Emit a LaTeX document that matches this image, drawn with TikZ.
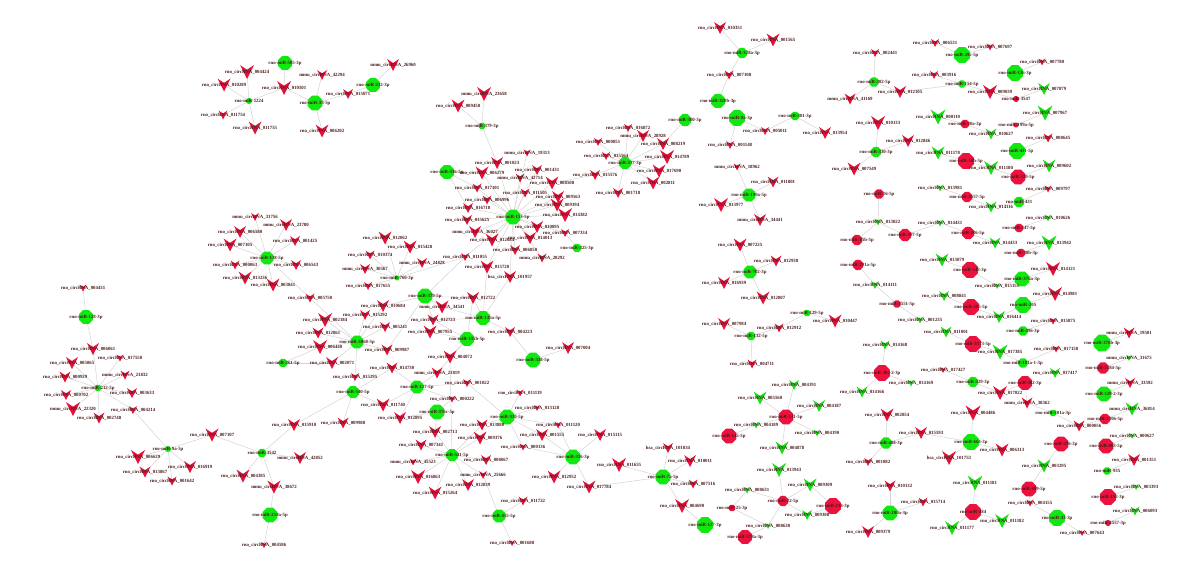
\documentclass[tikz,border=0pt]{standalone}
\usepackage{fontspec}
\setmainfont{Liberation Serif}
\usetikzlibrary{shapes.geometric}
\pgfdeclarelayer{bg}\pgfsetlayers{bg,main}
\definecolor{gO}{RGB}{16,232,16}
\definecolor{rO}{RGB}{236,18,62}
\definecolor{gV}{RGB}{20,225,20}
\definecolor{rV}{RGB}{232,16,58}
\definecolor{lab}{RGB}{72,26,26}
\definecolor{edg}{RGB}{212,212,212}
\tikzset{
 oct/.style={regular polygon,regular polygon sides=8,inner sep=0pt,draw=none},
 ptn/.style={inner sep=0pt,minimum size=0.5pt,draw=none},
 lbl/.style={font=\fontsize{4.8}{5}\selectfont\bfseries,text=lab,inner sep=0pt},
 edge/.style={draw=edg,line width=0.5pt}
}
\newif\ifshp
\newcommand\GO[5]{\ifshp\node[oct,fill=gO,minimum size=#4pt] (#1) at (#2,#3) {};\else\node[lbl] (#1-t) at (#2,#3) {#5};\fi}
\newcommand\RO[5]{\ifshp\node[oct,fill=rO,minimum size=#4pt] (#1) at (#2,#3) {};\else\node[lbl] (#1-t) at (#2,#3) {#5};\fi}
\newcommand\VN[6]{\ifshp\node[ptn] (#1) at (#2,#3) {};\fill[#6] (#2-#4/2,#3-#4/2) -- (#2,#3-#4/6) -- (#2+#4/2,#3-#4/2) -- (#2,#3+#4/2) -- cycle;\else\node[lbl] (#1-t) at (#2,#3) {#5};\fi}
\newcommand\RV[5]{\VN{#1}{#2}{#3}{#4}{#5}{rV}}
\newcommand\GV[5]{\VN{#1}{#2}{#3}{#4}{#5}{gV}}
\begin{document}
\catcode`\_=12
\newcommand\NODELIST{%
% ---------- green miRNA octagons
\GO{r505-3p}{285}{63}{15}{rno-miR-505-3p}
\GO{r1224}{249}{101}{6}{rno-miR-1224}
\GO{r33-5p}{315}{103}{16}{rno-miR-33-5p}
\GO{r212-3p}{373}{85}{15}{rno-miR-212-3p}
\GO{r379-3p}{482}{126}{7}{rno-miR-379-3p}
\GO{r336-5p}{447}{172}{15}{rno-miR-336-5p}
\GO{r153-5p}{513}{217}{16}{rno-miR-153-5p}
\GO{r325-3p}{577}{248}{9}{rno-miR-325-3p}
\GO{r138-5p}{267}{258}{14}{rno-miR-138-5p}
\GO{r128-3p}{86}{317}{15}{rno-miR-128-3p}
\GO{r361-5p}{283}{363}{9}{rno-miR-361-5p}
\GO{r760-3p}{397}{278}{5}{rno-miR-760-3p}
\GO{r379-5p}{425}{296}{16}{rno-miR-379-5p}
\GO{r135a-5p}{483}{318}{15}{rno-miR-135a-5p}
\GO{r135b-5p}{467}{339}{15}{rno-miR-135b-5p}
\GO{r3068-5p}{357}{342}{14}{rno-miR-3068-5p}
\GO{r338-5p}{533}{360}{16}{rno-miR-338-5p}
\GO{r212-5p}{98}{388}{7}{rno-miR-212-5p}
\GO{r9a-5p}{168}{449}{6}{rno-miR-9a-5p}
\GO{r3542}{262}{453}{9}{rno-miR-3542}
\GO{r218a-5p}{270}{515}{16}{rno-miR-218a-5p}
\GO{r540-5p}{353}{392}{13}{rno-miR-540-5p}
\GO{r127-5p}{417}{387}{14}{rno-miR-127-5p}
\GO{r376c-5p}{437}{412}{16}{rno-miR-376c-5p}
\GO{r330-5p}{507}{417}{16}{rno-miR-330-5p}
\GO{r541-5p}{452}{455}{13}{rno-miR-541-5p}
\GO{r326-3p}{573}{457}{16}{rno-miR-326-3p}
\GO{r455-5p}{499}{516}{14}{rno-miR-455-5p}
\GO{r7a-5p}{663}{477}{16}{rno-miR-7a-5p}
\GO{r127-3p}{705}{525}{17}{rno-miR-127-3p}
\GO{r328a-3p}{742}{53}{11}{rno-miR-328a-3p}
\GO{r328b-3p}{718}{101}{15}{rno-miR-328b-3p}
\GO{r300-3p}{685}{120}{13}{rno-miR-300-3p}
\GO{r9a-3p}{737}{118}{17}{rno-miR-9a-3p}
\GO{r381-3p}{795}{116}{9}{rno-miR-381-3p}
\GO{r382-5p}{874}{82}{10}{rno-miR-382-5p}
\GO{r330-3p}{876}{152}{11}{rno-miR-330-3p}
\GO{r337-3p}{625}{163}{13}{rno-miR-337-3p}
\GO{r190a-5p}{749}{195}{14}{rno-miR-190a-5p}
\GO{r702-3p}{750}{272}{14}{rno-miR-702-3p}
\GO{r129-5p}{807}{313}{7}{rno-miR-129-5p}
\GO{r132-5p}{751}{336}{9}{rno-miR-132-5p}
\GO{r29c-5p}{962}{55}{17}{rno-miR-29c-5p}
\GO{r136-3p}{1015}{73}{17}{rno-miR-136-3p}
\GO{r154-5p}{962}{84}{8}{rno-miR-154-5p}
\GO{r411-5p}{1017}{151}{17}{rno-miR-411-5p}
\GO{r431}{1019}{202}{11}{rno-miR-431}
\GO{r376a-3p}{1022}{279}{16}{rno-miR-376a-3p}
\GO{r205}{1023}{305}{17}{rno-miR-205}
\GO{r496-3p}{1023}{331}{10}{rno-miR-496-3p}
\GO{r376b-3p}{1102}{343}{18}{rno-miR-376b-3p}
\GO{r181a}{1023}{363}{10}{rno-miR-181a-1-3p}
\GO{r329-3p}{973}{382}{11}{rno-miR-329-3p}
\GO{r301a-3p}{1053}{413}{7}{rno-miR-301a-3p}
\GO{r129-2-3p}{1104}{394}{16}{rno-miR-129-2-3p}
\GO{r664-3p}{971}{442}{17}{rno-miR-664-3p}
\GO{r935}{1107}{471}{8}{rno-miR-935}
\GO{r33-3p}{1057}{518}{17}{rno-miR-33-3p}
\GO{r488-3p}{886}{443}{12}{rno-miR-488-3p}
\GO{r200a-3p}{890}{513}{16}{rno-miR-200a-3p}
% ---------- red miRNA octagons
\RO{r3557-5p}{967}{197}{11}{rno-miR-3557-5p}
\RO{r16-5p}{879}{194}{10}{rno-miR-16-5p}
\RO{r15b-5p}{857}{240}{11}{rno-miR-15b-5p}
\RO{r497-5p}{905}{235}{13}{rno-miR-497-5p}
\RO{r206-5p}{968}{233}{13}{rno-miR-206-5p}
\RO{r547-5p}{1019}{228}{9}{rno-miR-547-5p}
\RO{r30b-3p}{1021}{253}{9}{rno-miR-30b-3p}
\RO{r291a-5p}{858}{265}{11}{rno-miR-291a-5p}
\RO{r143-3p}{970}{270}{17}{rno-miR-143-3p}
\RO{r3551-5p}{897}{304}{8}{rno-miR-3551-5p}
\RO{r505-5p}{971}{307}{17}{rno-miR-505-5p}
\RO{r3573-5p}{973}{344}{17}{rno-miR-3573-5p}
\RO{r3584-5p}{1103}{368}{12}{rno-miR-3584-5p}
\RO{r30c-2-3p}{882}{373}{17}{rno-miR-30c-2-3p}
\RO{r382-3p}{1025}{383}{15}{rno-miR-382-3p}
\RO{r1306-5p}{1105}{419}{11}{rno-miR-1306-5p}
\RO{r296-3p}{1061}{444}{16}{rno-miR-296-3p}
\RO{r883-5p}{1106}{446}{16}{rno-miR-883-5p}
\RO{r499-5p}{1029}{489}{16}{rno-miR-499-5p}
\RO{r152-3p}{1108}{497}{17}{rno-miR-152-3p}
\RO{r484}{973}{512}{17}{rno-miR-484}
\RO{r3557-3p}{1108}{523}{6}{rno-miR-3557-3p}
\RO{r141-5p}{786}{417}{16}{rno-miR-141-5p}
\RO{r145-5p}{729}{436}{16}{rno-miR-145-5p}
\RO{r22-5p}{783}{501}{11}{rno-miR-22-5p}
\RO{r25-3p}{732}{508}{7}{rno-miR-25-3p}
\RO{r214-3p}{833}{506}{17}{rno-miR-214-3p}
\RO{r378a-3p}{745}{537}{15}{rno-miR-378a-3p}
\RO{r3547}{1016}{99}{6}{rno-miR-3547}
\RO{r30a-3p}{965}{124}{9}{rno-miR-30a-3p}
\RO{r199a-5p}{1016}{125}{5}{rno-miR-199a-5p}
\RO{r10b-5p}{966}{161}{17}{rno-miR-10b-5p}
\RO{r320-5p}{1018}{177}{16}{rno-miR-320-5p}
% ---------- circRNA V nodes (left)
\RV{c004424}{247}{72}{14}{rno_circRNA_004424}
\RV{c010289}{224}{85}{13}{rno_circRNA_010289}
\RV{c010501}{284}{88}{14}{rno_circRNA_010501}
\RV{c011754}{223}{115}{9}{rno_circRNA_011754}
\RV{c011755}{255}{128}{13}{rno_circRNA_011755}
\RV{u42294}{322}{75}{10}{mmu_circRNA_42294}
\RV{c006202}{322}{131}{13}{rno_circRNA_006202}
\RV{c015071}{348}{94}{10}{rno_circRNA_015071}
\RV{u26960}{393}{65}{12}{mmu_circRNA_26960}
\RV{u23658}{484}{94}{14}{mmu_circRNA_23658}
\RV{c009458}{458}{106}{13}{rno_circRNA_009458}
\RV{u19313}{527}{153}{7}{mmu_circRNA_19313}
\RV{c001023}{497}{163}{12}{rno_circRNA_001023}
\RV{c006279}{482}{173}{13}{rno_circRNA_006279}
\RV{c001431}{537}{170}{10}{rno_circRNA_001431}
\RV{u42714}{520}{178}{9}{mmu_circRNA_42714}
\RV{c017101}{477}{188}{9}{rno_circRNA_017101}
\RV{c008508}{552}{183}{13}{rno_circRNA_008508}
\RV{c011505}{525}{193}{9}{rno_circRNA_011505}
\RV{c009563}{558}{197}{12}{rno_circRNA_009563}
\RV{c006996}{487}{200}{9}{rno_circRNA_006996}
\RV{c009394}{557}{205}{13}{rno_circRNA_009394}
\RV{c016718}{468}{208}{10}{rno_circRNA_016718}
\RV{c014382}{565}{215}{14}{rno_circRNA_014382}
\RV{c015625}{467}{220}{10}{rno_circRNA_015625}
\RV{c010895}{537}{227}{12}{rno_circRNA_010895}
\RV{c007334}{565}{233}{8}{rno_circRNA_007334}
\RV{u36027}{475}{232}{12}{mmu_circRNA_36027}
\RV{c014013}{530}{238}{12}{rno_circRNA_014013}
\RV{c012084}{492}{240}{13}{rno_circRNA_012084}
\RV{c006850}{515}{250}{10}{rno_circRNA_006850}
\RV{u28292}{542}{258}{9}{mmu_circRNA_28292}
\RV{c011055}{465}{257}{8}{rno_circRNA_011055}
\RV{c015720}{487}{267}{13}{rno_circRNA_015720}
\RV{h101957}{510}{277}{12}{hsa_circRNA_101957}
\RV{c012062}{385}{238}{13}{rno_circRNA_012062}
\RV{c015428}{410}{247}{13}{rno_circRNA_015428}
\RV{c010374}{370}{255}{9}{rno_circRNA_010374}
\RV{u24828}{422}{263}{10}{mmu_circRNA_24828}
\RV{u30567}{365}{269}{10}{mmu_circRNA_30567}
\RV{c017655}{368}{286}{8}{rno_circRNA_017655}
\RV{c012722}{473}{298}{12}{rno_circRNA_012722}
\RV{c010684}{383}{306}{12}{rno_circRNA_010684}
\RV{u34541}{442}{307}{13}{mmu_circRNA_34541}
\RV{c015292}{365}{315}{10}{rno_circRNA_015292}
\RV{c012723}{433}{320}{11}{rno_circRNA_012723}
\RV{c005241}{385}{327}{10}{rno_circRNA_005241}
\RV{c007955}{430}{332}{13}{rno_circRNA_007955}
\RV{c004223}{510}{332}{10}{rno_circRNA_004223}
\RV{c009987}{387}{350}{11}{rno_circRNA_009987}
\RV{c004072}{450}{357}{13}{rno_circRNA_004072}
\RV{c007004}{568}{348}{12}{rno_circRNA_007004}
\RV{c014730}{392}{368}{11}{rno_circRNA_014730}
\RV{u21819}{437}{373}{11}{mmu_circRNA_21819}
\RV{c015295}{355}{377}{8}{rno_circRNA_015295}
\RV{c005750}{310}{298}{9}{rno_circRNA_005750}
\RV{c002184}{325}{320}{14}{rno_circRNA_002184}
\RV{c012861}{318}{333}{11}{rno_circRNA_012861}
\RV{c006440}{320}{347}{14}{rno_circRNA_006440}
\RV{c002071}{332}{363}{12}{rno_circRNA_002071}
\RV{u31756}{255}{217}{8}{mmu_circRNA_31756}
\RV{u23780}{286}{225}{12}{mmu_circRNA_23780}
\RV{c006580}{240}{232}{12}{rno_circRNA_006580}
\RV{c007105}{230}{245}{13}{rno_circRNA_007105}
\RV{c001425}{295}{241}{10}{rno_circRNA_001425}
\RV{c000063}{235}{265}{9}{rno_circRNA_000063}
\RV{c006543}{296}{265}{10}{rno_circRNA_006543}
\RV{c013236}{245}{278}{13}{rno_circRNA_013236}
\RV{c003841}{273}{285}{13}{rno_circRNA_003841}
\RV{c004431}{83}{288}{7}{rno_circRNA_004431}
\RV{c006061}{93}{349}{12}{rno_circRNA_006061}
\RV{c005865}{72}{363}{12}{rno_circRNA_005865}
\RV{c017550}{120}{358}{7}{rno_circRNA_017550}
\RV{u21832}{125}{375}{9}{mmu_circRNA_21832}
\RV{c000929}{65}{377}{11}{rno_circRNA_000929}
\RV{c000702}{66}{395}{10}{rno_circRNA_000702}
\RV{c003633}{132}{393}{10}{rno_circRNA_003633}
\RV{u22320}{73}{409}{14}{mmu_circRNA_22320}
\RV{c004214}{133}{410}{8}{rno_circRNA_004214}
\RV{c002748}{99}{418}{11}{rno_circRNA_002748}
\RV{c007107}{212}{435}{13}{rno_circRNA_007107}
\RV{c006629}{138}{457}{14}{rno_circRNA_006629}
\RV{c016919}{190}{467}{12}{rno_circRNA_016919}
\RV{c013867}{145}{472}{11}{rno_circRNA_013867}
\RV{c001642}{172}{481}{9}{rno_circRNA_001642}
\RV{c004385}{243}{476}{13}{rno_circRNA_004385}
\RV{u38672}{274}{487}{13}{mmu_circRNA_38672}
\RV{c004586}{264}{545}{6}{rno_circRNA_004586}
\RV{u42852}{300}{458}{12}{mmu_circRNA_42852}
\RV{c015910}{294}{425}{12}{rno_circRNA_015910}
\RV{c009988}{343}{423}{11}{rno_circRNA_009988}
\RV{c011740}{383}{405}{13}{rno_circRNA_011740}
\RV{c012895}{400}{418}{12}{rno_circRNA_012895}
\RV{c001022}{467}{383}{8}{rno_circRNA_001022}
\RV{c000222}{452}{399}{7}{rno_circRNA_000222}
\RV{c011119}{520}{393}{7}{rno_circRNA_011119}
\RV{c013128}{537}{408}{6}{rno_circRNA_013128}
\RV{c013880}{482}{425}{11}{rno_circRNA_013880}
\RV{c011120}{558}{425}{7}{rno_circRNA_011120}
\RV{c002713}{435}{432}{12}{rno_circRNA_002713}
\RV{c009376}{480}{438}{13}{rno_circRNA_009376}
\RV{c001555}{542}{435}{12}{rno_circRNA_001555}
\RV{c007341}{421}{445}{11}{rno_circRNA_007341}
\RV{c000136}{523}{447}{7}{rno_circRNA_000136}
\RV{u45523}{413}{462}{7}{mmu_circRNA_45523}
\RV{c008067}{486}{460}{10}{rno_circRNA_008067}
\RV{c016863}{418}{477}{14}{rno_circRNA_016863}
\RV{u25666}{483}{475}{8}{mmu_circRNA_25666}
\RV{c012952}{554}{477}{13}{rno_circRNA_012952}
\RV{c012839}{468}{485}{12}{rno_circRNA_012839}
\RV{c015264}{435}{493}{13}{rno_circRNA_015264}
\RV{c017784}{589}{487}{13}{rno_circRNA_017784}
\RV{c011722}{523}{501}{9}{rno_circRNA_011722}
\RV{c001680}{512}{543}{6}{rno_circRNA_001680}
\RV{c015115}{600}{435}{12}{rno_circRNA_015115}
\RV{c011655}{619}{465}{14}{rno_circRNA_011655}
\RV{h101834}{668}{448}{10}{hsa_circRNA_101834}
\RV{c010011}{690}{461}{12}{rno_circRNA_010011}
\RV{c007516}{693}{484}{9}{rno_circRNA_007516}
\RV{c004690}{682}{506}{14}{rno_circRNA_004690}
% ---------- circRNA V nodes (top middle)
\RV{c010351}{720}{28}{12}{rno_circRNA_010351}
\RV{c001565}{773}{40}{13}{rno_circRNA_001565}
\RV{c007108}{729}{75}{9}{rno_circRNA_007108}
\RV{c002441}{875}{53}{8}{rno_circRNA_002441}
\RV{u41169}{850}{99}{11}{mmu_circRNA_41169}
\RV{c012105}{900}{92}{12}{rno_circRNA_012105}
\RV{c005011}{765}{131}{8}{rno_circRNA_005011}
\RV{c013954}{825}{133}{12}{rno_circRNA_013954}
\RV{c010133}{878}{123}{14}{rno_circRNA_010133}
\RV{c001148}{730}{145}{8}{rno_circRNA_001148}
\RV{c012846}{908}{141}{12}{rno_circRNA_012846}
\RV{c007549}{854}{169}{13}{rno_circRNA_007549}
\RV{c016872}{628}{128}{8}{rno_circRNA_016872}
\RV{u28928}{643}{136}{12}{mmu_circRNA_28928}
\RV{c000851}{598}{142}{8}{rno_circRNA_000851}
\RV{c008219}{663}{144}{12}{rno_circRNA_008219}
\RV{c015564}{606}{156}{8}{rno_circRNA_015564}
\RV{c014789}{667}{157}{14}{rno_circRNA_014789}
\RV{c017690}{659}{171}{13}{rno_circRNA_017690}
\RV{c015576}{595}{175}{10}{rno_circRNA_015576}
\RV{c002811}{653}{183}{13}{rno_circRNA_002811}
\RV{c001718}{618}{193}{10}{rno_circRNA_001718}
\RV{u18962}{737}{167}{7}{mmu_circRNA_18962}
\RV{c011801}{773}{182}{11}{rno_circRNA_011801}
\RV{c013977}{721}{205}{14}{rno_circRNA_013977}
\RV{u34441}{760}{220}{12}{mmu_circRNA_34441}
\RV{c007225}{740}{245}{13}{rno_circRNA_007225}
\RV{c012938}{776}{261}{11}{rno_circRNA_012938}
\RV{c016939}{724}{283}{12}{rno_circRNA_016939}
\RV{c012807}{763}{298}{13}{rno_circRNA_012807}
\RV{c007984}{724}{324}{12}{rno_circRNA_007984}
\RV{c012912}{779}{328}{9}{rno_circRNA_012912}
\RV{c010447}{835}{321}{13}{rno_circRNA_010447}
\RV{c004711}{752}{364}{9}{rno_circRNA_004711}
% ---------- circRNA V nodes (right)
\GV{c013022}{878}{222}{7}{rno_circRNA_013022}
\GV{c014111}{875}{285}{8}{rno_circRNA_014111}
\GV{c001235}{920}{320}{7}{rno_circRNA_001235}
\GV{c014168}{885}{345}{9}{rno_circRNA_014168}
\GV{c014169}{911}{383}{7}{rno_circRNA_014169}
\GV{c014166}{862}{392}{11}{rno_circRNA_014166}
\RV{c002854}{887}{415}{13}{rno_circRNA_002854}
\RV{c015593}{921}{433}{12}{rno_circRNA_015593}
\RV{c001882}{868}{462}{8}{rno_circRNA_001882}
\RV{c010132}{890}{486}{11}{rno_circRNA_010132}
\RV{c015714}{923}{502}{9}{rno_circRNA_015714}
\RV{c009379}{868}{532}{12}{rno_circRNA_009379}
\RV{c006531}{935}{43}{8}{rno_circRNA_006531}
\RV{c007697}{990}{47}{7}{rno_circRNA_007697}
\RV{c007780}{1042}{62}{7}{rno_circRNA_007780}
\RV{c003916}{934}{75}{8}{rno_circRNA_003916}
\RV{c009039}{990}{92}{14}{rno_circRNA_009039}
\GV{c007879}{1044}{89}{12}{rno_circRNA_007879}
\GV{c000110}{938}{117}{15}{rno_circRNA_000110}
\GV{c007967}{1045}{113}{15}{rno_circRNA_007967}
\GV{c010627}{991}{134}{11}{rno_circRNA_010627}
\RV{c008645}{1048}{138}{9}{rno_circRNA_008645}
\GV{c011178}{938}{153}{13}{rno_circRNA_011178}
\GV{c011180}{991}{168}{14}{rno_circRNA_011180}
\GV{c009602}{1049}{166}{13}{rno_circRNA_009602}
\GV{c013981}{940}{188}{7}{rno_circRNA_013981}
\RV{c009797}{1048}{189}{7}{rno_circRNA_009797}
\GV{c014116}{991}{207}{11}{rno_circRNA_014116}
\GV{c014431}{940}{223}{7}{rno_circRNA_014431}
\GV{c010626}{1048}{218}{7}{rno_circRNA_010626}
\GV{c014433}{995}{243}{11}{rno_circRNA_014433}
\GV{c013942}{1049}{243}{15}{rno_circRNA_013942}
\GV{c013079}{942}{260}{13}{rno_circRNA_013079}
\RV{c014121}{1053}{269}{14}{rno_circRNA_014121}
\GV{c015151}{997}{286}{6}{rno_circRNA_015151}
\GV{c008841}{944}{296}{10}{rno_circRNA_008841}
\RV{c014981}{1055}{294}{14}{rno_circRNA_014981}
\GV{c016414}{999}{317}{12}{rno_circRNA_016414}
\RV{c015875}{1053}{321}{7}{rno_circRNA_015875}
\GV{c011001}{946}{332}{11}{rno_circRNA_011001}
\GV{c017385}{1000}{352}{15}{rno_circRNA_017385}
\RV{u19501}{1129}{333}{11}{mmu_circRNA_19501}
\RV{c017158}{1056}{349}{7}{rno_circRNA_017158}
\GV{u31675}{1129}{358}{6}{mmu_circRNA_31675}
\RV{c017427}{943}{370}{6}{rno_circRNA_017427}
\GV{c017417}{1055}{373}{10}{rno_circRNA_017417}
\RV{c017822}{1000}{393}{14}{rno_circRNA_017822}
\RV{u38362}{1027}{403}{11}{mmu_circRNA_38362}
\RV{u33592}{1130}{383}{10}{mmu_circRNA_33592}
\GV{u36814}{1132}{409}{13}{mmu_circRNA_36814}
\RV{c000056}{1079}{426}{11}{rno_circRNA_000056}
\RV{c004486}{973}{413}{15}{rno_circRNA_004486}
\RV{c006313}{1002}{450}{13}{rno_circRNA_006313}
\RV{h101753}{949}{458}{14}{hsa_circRNA_101753}
\GV{c003295}{1044}{466}{13}{rno_circRNA_003295}
\GV{c000627}{1132}{436}{6}{rno_circRNA_000627}
\RV{c001351}{1134}{460}{12}{rno_circRNA_001351}
\GV{c011181}{975}{483}{15}{rno_circRNA_011181}
\GV{c003393}{1136}{487}{6}{rno_circRNA_003393}
\RV{c004155}{1030}{503}{7}{rno_circRNA_004155}
\GV{c011182}{1002}{521}{14}{rno_circRNA_011182}
\GV{c006093}{1135}{511}{9}{rno_circRNA_006093}
\GV{c011177}{952}{528}{14}{rno_circRNA_011177}
\RV{c007643}{1082}{533}{6}{rno_circRNA_007643}
% ---------- circRNA V nodes (bottom middle)
\GV{c004191}{794}{385}{10}{rno_circRNA_004191}
\GV{c005560}{760}{398}{13}{rno_circRNA_005560}
\GV{c004187}{819}{406}{12}{rno_circRNA_004187}
\GV{c004189}{756}{425}{7}{rno_circRNA_004189}
\GV{c004190}{817}{433}{7}{rno_circRNA_004190}
\GV{c004878}{782}{448}{13}{rno_circRNA_004878}
\GV{c013943}{779}{470}{14}{rno_circRNA_013943}
\GV{c008631}{747}{490}{7}{rno_circRNA_008631}
\GV{c009309}{810}{485}{13}{rno_circRNA_009309}
\GV{c009308}{807}{515}{10}{rno_circRNA_009308}
\GV{c008630}{768}{526}{6}{rno_circRNA_008630}
}
\begin{tikzpicture}[x=1pt,y=-1pt]
\useasboundingbox (0,0) rectangle (1200,568);
\shptrue
\NODELIST
\begin{pgfonlayer}{bg}
\foreach \a/\b in {
 r505-3p/c010501, r1224/c004424, r1224/c010289, r1224/c010501, r1224/c011754, r1224/c011755,
 r33-5p/u42294, r33-5p/c006202, r33-5p/c010501, r33-5p/c015071, r212-3p/c015071, r212-3p/u26960,
 r379-3p/u23658, r379-3p/c009458, r379-3p/c001023,
 r336-5p/c006279, r336-5p/c017101, r336-5p/c016718,
 r153-5p/c001023, r153-5p/u19313, r153-5p/c006279, r153-5p/c001431, r153-5p/u42714, r153-5p/c017101,
 r153-5p/c008508, r153-5p/c011505, r153-5p/c009563, r153-5p/c006996, r153-5p/c009394, r153-5p/c016718,
 r153-5p/c014382, r153-5p/c015625, r153-5p/c010895, r153-5p/c007334, r153-5p/u36027, r153-5p/c014013,
 r153-5p/c012084, r153-5p/c006850, r153-5p/u28292, r153-5p/c011055, r153-5p/c015720, r153-5p/h101957,
 r325-3p/c007334,
 r760-3p/c012062, r760-3p/c015428, r760-3p/c010374, r760-3p/u24828, r760-3p/u30567, r760-3p/c017655, r760-3p/c011055,
 r379-5p/c011055, r379-5p/c012722, r379-5p/u34541, r379-5p/c010684, r379-5p/c012723, r379-5p/c009987,
 r135a-5p/c012722, r135a-5p/c015720, r135a-5p/h101957, r135a-5p/c004223, r135a-5p/u34541, r135a-5p/c012723,
 r135b-5p/c012723, r135b-5p/c007955, r135b-5p/c004072, r135b-5p/u21819, r135b-5p/c012722,
 r338-5p/c004223, r338-5p/c007004,
 r3068-5p/c005750, r3068-5p/c002184, r3068-5p/c012861, r3068-5p/c006440, r3068-5p/c002071, r3068-5p/c010684,
 r3068-5p/c015292, r3068-5p/c005241, r3068-5p/c009987, r3068-5p/c015295,
 r361-5p/c006440, r361-5p/c002071,
 r138-5p/u31756, r138-5p/u23780, r138-5p/c006580, r138-5p/c007105, r138-5p/c001425, r138-5p/c000063,
 r138-5p/c006543, r138-5p/c013236, r138-5p/c003841, r138-5p/c005750,
 r128-3p/c004431, r128-3p/c006061,
 r212-5p/c006061, r212-5p/c005865, r212-5p/c017550, r212-5p/u21832, r212-5p/c000929, r212-5p/c000702,
 r212-5p/c003633, r212-5p/u22320, r212-5p/c004214, r212-5p/c002748,
 r9a-5p/c004214, r9a-5p/c007107, r9a-5p/c006629, r9a-5p/c016919, r9a-5p/c013867, r9a-5p/c001642,
 r3542/c007107, r3542/c004385, r3542/u38672, r3542/u42852, r3542/c015910,
 r218a-5p/u38672, r218a-5p/c004586,
 r540-5p/c015295, r540-5p/c011740, r540-5p/c009988, r540-5p/c015910, r540-5p/c014730,
 r127-5p/c011740, r127-5p/u21819, r127-5p/c014730, r127-5p/c012895, r127-5p/c000222, r127-5p/c001022,
 r376c-5p/c000222, r376c-5p/c012895, r376c-5p/c002713,
 r330-5p/c001022, r330-5p/c011119, r330-5p/c013128, r330-5p/c013880, r330-5p/c011120, r330-5p/c001555, r330-5p/c000136,
 r541-5p/c002713, r541-5p/c009376, r541-5p/c007341, r541-5p/u45523, r541-5p/c008067, r541-5p/c016863,
 r541-5p/u25666, r541-5p/c012839, r541-5p/c015264, r541-5p/c013880, r541-5p/c004072,
 r326-3p/c001555, r326-3p/c011120, r326-3p/c000136, r326-3p/c012952, r326-3p/c017784, r326-3p/c015115,
 r455-5p/u25666, r455-5p/c011722, r455-5p/c001680,
 r7a-5p/h101834, r7a-5p/c010011, r7a-5p/c011655, r7a-5p/c007516, r7a-5p/c004690, r7a-5p/c017784,
 r127-3p/c004690,
 r328a-3p/c010351, r328a-3p/c001565, r328a-3p/c007108, r328b-3p/c007108,
 r300-3p/c008219, r9a-3p/c005011, r9a-3p/c001148, r381-3p/c005011, r381-3p/c013954,
 r382-5p/c002441, r382-5p/u41169, r382-5p/c012105,
 r330-3p/c010133, r330-3p/c007549, r330-3p/c012846,
 r337-3p/c016872, r337-3p/u28928, r337-3p/c000851, r337-3p/c008219, r337-3p/c015564, r337-3p/c014789,
 r337-3p/c017690, r337-3p/c015576, r337-3p/c002811, r337-3p/c001718, c015576/c008508,
 r190a-5p/u18962, r190a-5p/c011801, r190a-5p/c013977, r190a-5p/u34441,
 r702-3p/c007225, r702-3p/c012938, r702-3p/c016939, r702-3p/c012807,
 r129-5p/c012912, r129-5p/c010447, r132-5p/c007984, r132-5p/c012912, r132-5p/c004711,
 r16-5p/c013022, r15b-5p/c013022, r497-5p/c013022, r291a-5p/c014111, r3551-5p/c014111, r3551-5p/c001235,
 r30c-2-3p/c014168, r30c-2-3p/c014166, r30c-2-3p/c014169,
 r29c-5p/c006531, r29c-5p/c007697, r136-3p/c007780, r154-5p/c003916, r154-5p/c009039, r154-5p/c012105,
 r3547/c007879, r3547/c009039, r30a-3p/c000110, r30a-3p/c010627, r199a-5p/c007967, r411-5p/c008645,
 r10b-5p/c011178, r10b-5p/c011180, r320-5p/c009602, r320-5p/c011180,
 r3557-5p/c013981, r3557-5p/c014116, r431/c009797, r431/c014116,
 r206-5p/c014431, r206-5p/c014433, r547-5p/c010626, r30b-3p/c013942, r497-5p/c014431,
 r143-3p/c013079, r143-3p/c015151, r376a-3p/c014121, r376a-3p/c015151,
 r505-5p/c008841, r505-5p/c016414, r205/c014981, r205/c016414, r496-3p/c015875,
 r3573-5p/c011001, r3573-5p/c017385, r181a/c017158, r181a/c017385, r376b-3p/u19501, r3584-5p/u31675,
 r329-3p/c017427, r329-3p/c017822, r382-3p/c017822, r382-3p/u38362, r301a-3p/u38362, r301a-3p/c000056,
 r1306-5p/u36814, r1306-5p/c000056, r129-2-3p/u33592,
 r664-3p/c004486, r664-3p/c015593, r664-3p/c006313, r664-3p/h101753,
 r488-3p/c002854, r488-3p/c001882, r488-3p/c015593,
 r296-3p/c003295, r499-5p/c003295, r499-5p/c004155, r33-3p/c004155, r33-3p/c007643,
 r883-5p/c000627, r935/c001351, r152-3p/c003393, r3557-3p/c006093,
 r484/c011181, r484/c011182, r484/c011177, r200a-3p/c010132, r200a-3p/c009379, r200a-3p/c015714,
 r141-5p/c004191, r141-5p/c005560, r141-5p/c004187, r141-5p/c004189, r141-5p/c004190, r141-5p/c004878,
 r145-5p/c004189,
 r22-5p/c013943, r22-5p/c008631, r22-5p/c009309, r22-5p/c009308, r22-5p/c008630,
 r25-3p/c008631, r25-3p/c008630, r214-3p/c009309, r214-3p/c009308, r378a-3p/c008630}
 \draw[edge] (\a.center) -- (\b.center);
\end{pgfonlayer}
\shpfalse
\NODELIST
\end{tikzpicture}
\end{document}
